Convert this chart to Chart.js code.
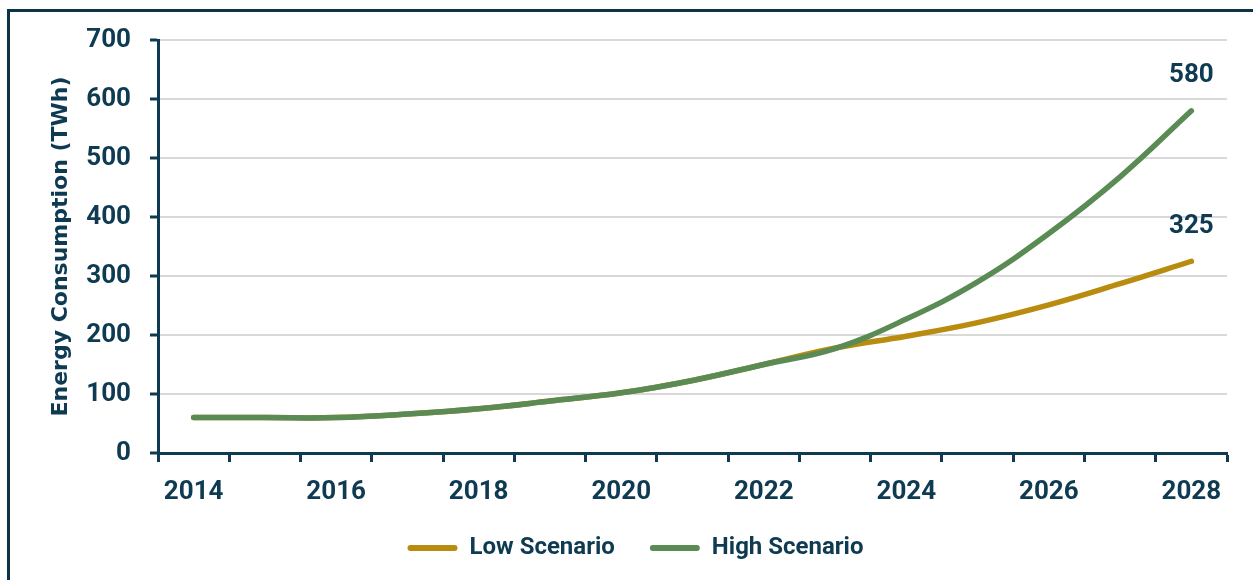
<!DOCTYPE html>
<html>
<head>
<meta charset="utf-8">
<script src="https://cdn.jsdelivr.net/npm/chart.js@4.4.1/dist/chart.umd.min.js"></script>
<style>
  html, body { margin: 0; padding: 0; background: #ffffff; overflow: hidden; }
  #frame {
    position: absolute; left: 7px; top: 9px; right: -20px; bottom: -20px;
    border: 3px solid #0d3349;
  }
  #wrap { position: absolute; left: 0; top: 0; width: 1253px; height: 580px; }
</style>
</head>
<body>
<div id="frame"></div>
<div id="wrap"><canvas id="energyChart"></canvas></div>
<script>
// Energy consumption outlook, two scenarios
const years = ['2014', '2015', '2016', '2017', '2018', '2019', '2020', '2021',
               '2022', '2023', '2024', '2025', '2026', '2027', '2028'];
const lowScenario  = [60, 60, 60, 66, 75, 88, 102, 123, 150, 178, 198, 221, 251, 287, 325];
const highScenario = [60, 60, 60, 66, 75, 88, 102, 123, 150, 177, 227, 290, 372, 468, 580];
const yTicks = [0, 100, 200, 300, 400, 500, 600, 700];

const NAVY = '#0e3a52';
const GOLD = '#b98c10';
const GREEN = '#5b8b55';
const FONT = 'Roboto, "Noto Sans", sans-serif';

// value labels above the last point of each line
const endLabels = {
    id: 'endLabels',
    afterDatasetsDraw(chart) {
        const ctx = chart.ctx;
        ctx.save();
        ctx.font = `bold 26px ${FONT}`;
        ctx.fillStyle = NAVY;
        ctx.textAlign = 'center';
        ctx.textBaseline = 'middle';
        chart.data.datasets.forEach((ds, i) => {
            const pts = chart.getDatasetMeta(i).data;
            const last = pts[pts.length - 1];
            ctx.fillText(String(ds.data[ds.data.length - 1]), last.x, last.y - 35);
        });
        ctx.restore();
    }
};

// nudge the legend block a little to the right
const legendShift = {
    id: 'legendShift',
    afterLayout(chart) {
        if (chart.legend) {
            chart.legend.left += 22;
            chart.legend.right += 22;
        }
    }
};

const ctx = document.getElementById('energyChart').getContext('2d');
new Chart(ctx, {
    type: 'line',
    data: {
        labels: years,
        datasets: [
            {
                label: 'Low Scenario',
                data: lowScenario,
                borderColor: GOLD,
                backgroundColor: GOLD,
                borderWidth: 5.5,
                borderCapStyle: 'round',
                pointRadius: 0,
                order: 1,
                tension: 0.4
            },
            {
                label: 'High Scenario',
                data: highScenario,
                borderColor: GREEN,
                backgroundColor: GREEN,
                borderWidth: 5.5,
                borderCapStyle: 'round',
                pointRadius: 0,
                order: 0,
                tension: 0.4
            }
        ]
    },
    options: {
        responsive: true,
        maintainAspectRatio: false,
        animation: false,
        layout: { padding: { left: 0, right: 26, top: 40, bottom: 10 } },
        plugins: {
            tooltip: { enabled: false },
            legend: {
                position: 'bottom',
                labels: {
                    color: NAVY,
                    font: { family: FONT, size: 24, weight: 'bold' },
                    boxWidth: 50,
                    boxHeight: 6,
                    padding: 35,
                    useBorderRadius: true,
                    generateLabels(chart) {
                        return chart.data.datasets.map((ds, i) => ({
                            text: ds.label,
                            fillStyle: ds.borderColor,
                            strokeStyle: ds.borderColor,
                            lineWidth: 0,
                            borderRadius: 3,
                            fontColor: NAVY,
                            datasetIndex: i
                        }));
                    }
                }
            }
        },
        scales: {
            x: {
                offset: true,
                afterFit(scale) { scale.height = 48; },
                grid: {
                    offset: true,
                    drawOnChartArea: false,
                    drawTicks: true,
                    tickLength: 9,
                    tickColor: NAVY,
                    tickWidth: 3
                },
                border: { color: NAVY, width: 3 },
                ticks: {
                    autoSkip: false,
                    maxRotation: 0,
                    padding: 15,
                    color: NAVY,
                    font: { family: FONT, size: 26, weight: 'bold' },
                    callback(value, index) {
                        return index % 2 === 0 ? years[index] : '';
                    }
                }
            },
            y: {
                min: 0,
                max: 700,
                afterFit(scale) { scale.width = 158; },
                afterBuildTicks(scale) {
                    scale.ticks = yTicks.map(v => ({ value: v }));
                },
                grid: {
                    color: '#d9d9d9',
                    lineWidth: 2,
                    drawTicks: true,
                    tickLength: 8,
                    tickColor: NAVY,
                    tickWidth: 3
                },
                border: { color: NAVY, width: 3 },
                ticks: {
                    padding: 19,
                    color: NAVY,
                    font: { family: FONT, size: 26, weight: 'bold' }
                },
                title: {
                    display: true,
                    text: 'Energy Consumption (TWh)',
                    color: NAVY,
                    font: { family: '"DejaVu Sans", sans-serif', size: 22, weight: 'bold' },
                    padding: { top: 48, bottom: 0 }
                }
            }
        }
    },
    plugins: [endLabels, legendShift]
});
</script>
</body>
</html>
